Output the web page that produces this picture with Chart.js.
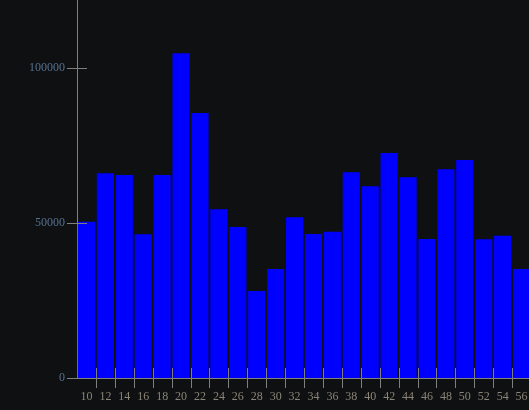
<!DOCTYPE html>
<html>
<head>
<meta charset="utf-8">
<script src="https://cdn.jsdelivr.net/npm/chart.js@4"></script>
<style>
  html, body { margin: 0; padding: 0; background: #0e1012; overflow: hidden; }
  #wrap { width: 531px; height: 410px; }
</style>
</head>
<body>
<div id="wrap"><canvas id="hist"></canvas></div>
<script>
// bin labels and counts
const bins = ['10', '12', '14', '16', '18', '20', '22', '24', '26', '28', '30', '32',
              '34', '36', '38', '40', '42', '44', '46', '48', '50', '52', '54', '56'];
const counts = [50400, 66100, 65500, 46400, 65500, 104800, 85500, 54500, 48700, 28100, 35200, 51900,
                46500, 47200, 66400, 61900, 72600, 64800, 44900, 67400, 70400, 44800, 45900, 35200];
const yTicks = [0, 50000, 100000];

const axisColor = '#7f7f7f';

// draws tick marks that cross the axis lines (half outside, half inside)
const crossTicks = {
    id: 'crossTicks',
    afterDatasetsDraw(chart) {
        const c = chart.ctx;
        const x = chart.scales.x, y = chart.scales.y;
        c.save();
        c.strokeStyle = axisColor;
        c.lineWidth = 1;
        c.beginPath();
        yTicks.forEach(v => {
            const py = Math.round(y.getPixelForValue(v)) + 0.5;
            c.moveTo(x.left - 10, py);
            c.lineTo(x.left + 10, py);
        });
        for (let i = 0; i < bins.length; i++) {
            const px = Math.round(x.getPixelForValue(i + 0.5)) + 0.5;
            c.moveTo(px, y.bottom - 10);
            c.lineTo(px, y.bottom + 10);
        }
        c.stroke();
        c.restore();
    }
};

const ctx = document.getElementById('hist').getContext('2d');
new Chart(ctx, {
    type: 'bar',
    data: {
        labels: bins,
        datasets: [{
            data: counts,
            backgroundColor: '#0000ff',
            barPercentage: 1,
            categoryPercentage: 0.91
        }]
    },
    options: {
        responsive: true,
        maintainAspectRatio: false,
        animation: false,
        layout: { padding: 0 },
        plugins: {
            legend: { display: false },
            tooltip: { enabled: false }
        },
        scales: {
            x: {
                offset: true,
                grid: { display: false, drawTicks: false },
                border: { display: true, color: axisColor },
                ticks: {
                    color: '#8b8577',
                    padding: 12,
                    autoSkip: false,
                    maxRotation: 0,
                    font: { family: 'Liberation Serif', size: 12 }
                },
                afterFit: function (scale) {
                    scale.height = 32;
                    scale.paddingLeft = 0;
                    scale.paddingRight = 0;
                }
            },
            y: {
                min: 0,
                max: 122000,
                grid: { display: false, drawTicks: false },
                border: { display: true, color: axisColor },
                ticks: {
                    color: '#56718e',
                    padding: 12,
                    font: { family: 'Liberation Serif', size: 12 },
                    callback: v => String(v)
                },
                afterBuildTicks: function (scale) {
                    scale.ticks = yTicks.map(v => ({ value: v }));
                },
                afterFit: function (scale) {
                    scale.width = 77;
                    scale.paddingTop = 0;
                    scale.paddingBottom = 0;
                }
            }
        }
    },
    plugins: [crossTicks]
});
</script>
</body>
</html>
